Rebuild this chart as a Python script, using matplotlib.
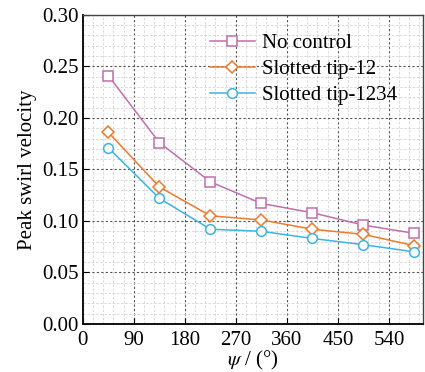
import numpy as np
import matplotlib.pyplot as plt
from matplotlib.ticker import MultipleLocator

plt.rcParams['font.family'] = ['Liberation Serif', 'DejaVu Serif']
plt.rcParams['mathtext.fontset'] = 'stix'

psi = [45, 135, 225, 315, 405, 495, 585]
no_control = [0.241, 0.176, 0.138, 0.117, 0.108, 0.096, 0.088]
slotted_12 = [0.186, 0.133, 0.105, 0.101, 0.092, 0.087, 0.076]
slotted_1234 = [0.171, 0.122, 0.092, 0.090, 0.083, 0.077, 0.070]

fig = plt.figure(figsize=(4.25, 3.72), dpi=100)
ax = fig.add_axes([0.195, 0.129, 0.80, 0.831])

ax.plot(psi, no_control, color='#c070ac', marker='s', ms=7, mfc='white',
        mew=1.1, lw=1.1, label='No control')
ax.plot(psi, slotted_12, color='#f07a2c', marker='D', ms=6.5, mfc='white',
        mew=1.1, lw=1.1, label='Slotted tip-12')
ax.plot(psi, slotted_1234, color='#3cb4e4', marker='o', ms=7, mfc='white',
        mew=1.1, lw=1.1, label='Slotted tip-1234')

ax.set_xlim(0, 600)
ax.set_ylim(0, 0.30)
ax.xaxis.set_minor_locator(MultipleLocator(18))
ax.yaxis.set_minor_locator(MultipleLocator(0.01))
ax.set_xticks([0, 90, 180, 270, 360, 450, 540])
yt = np.arange(0, 0.301, 0.05)
ax.set_yticks(yt)
ax.set_yticklabels(['%.2f' % v for v in yt])

ax.grid(which='major', color='#555555', ls=(0, (2, 2)), lw=0.8)
ax.grid(which='minor', color='#d4d4d4', ls=(0, (3, 2)), lw=0.6)
ax.set_axisbelow(True)

ax.tick_params(which='major', direction='in', length=4, labelsize=15)
ax.tick_params(axis='x', which='major', pad=5)
ax.tick_params(axis='y', which='major', pad=3)
ax.tick_params(which='minor', length=0)
for side in ['left', 'bottom']:
    ax.spines[side].set_linewidth(1.4)
    ax.spines[side].set_color('#111111')
for side in ['top', 'right']:
    ax.spines[side].set_linewidth(1.0)
    ax.spines[side].set_color('#444444')

ax.set_xlabel(r'$\psi$ / (°)', fontsize=15, labelpad=-1)
ax.set_ylabel('Peak swirl velocity', fontsize=15, labelpad=4)

ax.legend(loc='upper right', frameon=False, fontsize=15, handlelength=2.2,
          handletextpad=0.3, labelspacing=0.3, borderaxespad=0.2,
          bbox_to_anchor=(0.96, 0.98))

fig.savefig('out.png', dpi=100)
